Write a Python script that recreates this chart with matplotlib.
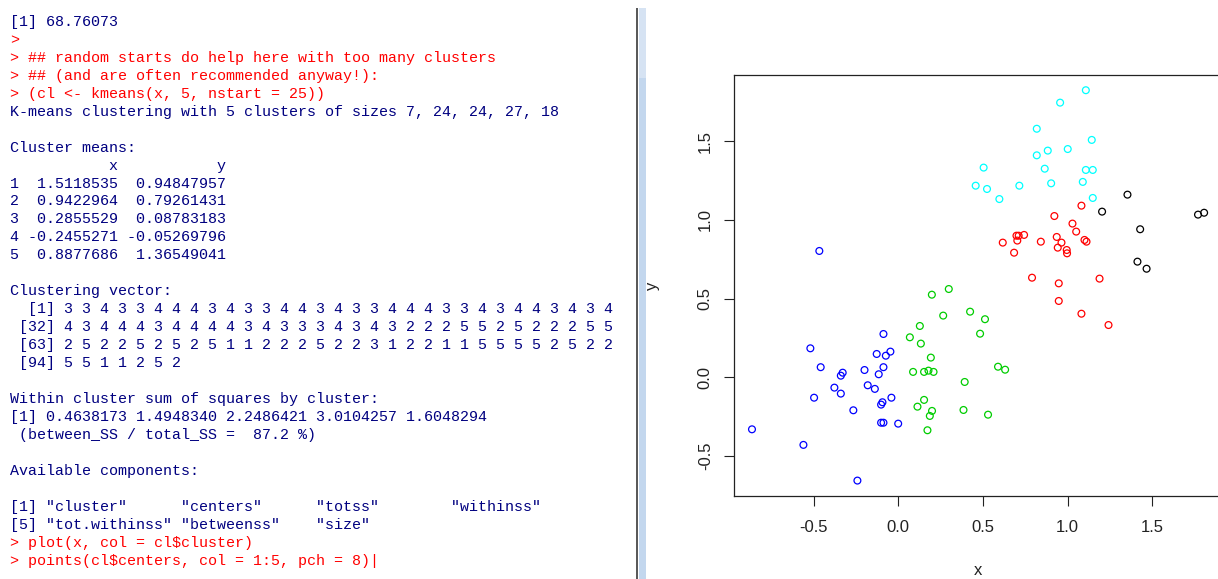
import numpy as np
import matplotlib
matplotlib.use("Agg")
import matplotlib.pyplot as plt
from matplotlib.patches import Rectangle
from matplotlib.ticker import FixedLocator, FormatStrFormatter

# points of each k-means cluster
x1 = [1.354, 1.771, 1.807, 1.429, 1.413, 1.467, 1.204]
y1 = [1.161, 1.034, 1.046, 0.941, 0.735, 0.690, 1.053]

x2 = [1.082, 0.922, 1.029, 1.051, 0.711, 0.743, 0.703, 0.617, 0.842, 0.936, 0.964, 0.942,
      0.995, 0.997, 1.100, 1.112, 0.684, 0.790, 0.948, 1.189, 0.948, 1.082, 1.242, 0.698]
y2 = [1.091, 1.025, 0.977, 0.926, 0.900, 0.905, 0.869, 0.856, 0.862, 0.892, 0.856, 0.824,
      0.809, 0.788, 0.873, 0.862, 0.792, 0.633, 0.597, 0.627, 0.485, 0.404, 0.332, 0.900]

x3 = [0.298, 0.198, 0.424, 0.265, 0.512, 0.127, 0.483, 0.068, 0.133, 0.192, 0.087, 0.152,
      0.178, 0.208, 0.589, 0.631, 0.392, 0.152, 0.113, 0.199, 0.186, 0.385, 0.530, 0.172]
y3 = [0.561, 0.525, 0.417, 0.392, 0.369, 0.326, 0.277, 0.254, 0.214, 0.125, 0.034, 0.034,
      0.042, 0.034, 0.067, 0.048, -0.030, -0.144, -0.187, -0.214, -0.246, -0.208, -0.238, -0.337]

x4 = [-0.467, -0.088, -0.520, -0.128, -0.047, -0.074, -0.459, -0.088, -0.200, -0.329,
      -0.340, -0.116, -0.378, -0.340, -0.181, -0.139, -0.498, -0.041, -0.094, -0.102,
      -0.266, -0.102, -0.088, -0.001, -0.865, -0.561, -0.242]
y4 = [0.803, 0.275, 0.184, 0.148, 0.163, 0.137, 0.064, 0.064, 0.046, 0.029,
      0.010, 0.019, -0.066, -0.104, -0.051, -0.074, -0.130, -0.130, -0.159, -0.174,
      -0.210, -0.289, -0.289, -0.295, -0.331, -0.430, -0.657]

x5 = [1.108, 0.956, 0.818, 1.143, 1.001, 0.883, 0.818, 0.504, 0.865, 1.108, 1.149,
      0.457, 0.524, 0.715, 0.903, 1.090, 0.597, 1.149]
y5 = [1.825, 1.746, 1.580, 1.509, 1.451, 1.441, 1.411, 1.333, 1.326, 1.318, 1.318,
      1.218, 1.197, 1.218, 1.233, 1.242, 1.133, 1.140]

cluster_x = [x1, x2, x3, x4, x5]
cluster_y = [y1, y2, y3, y4, y5]
cluster_cols = ["#000000", "#FF0000", "#00CD00", "#0000FF", "#00FFFF"]  # R palette 1:5

# console output shown on the left
sizes = [7, 24, 24, 27, 18]
centers_x = [1.5118535, 0.9422964, 0.2855529, -0.2455271, 0.8877686]
centers_y = [0.94847957, 0.79261431, 0.08783183, -0.05269796, 1.36549041]
cluster_vec = [3, 3, 4, 3, 3, 4, 4, 4, 3, 4, 3, 3, 4, 4, 3, 4, 3, 3, 4, 4, 4, 3, 3, 4, 3, 4, 4, 3, 4, 3, 4,
               4, 3, 4, 4, 4, 3, 4, 4, 4, 4, 3, 4, 3, 3, 3, 4, 3, 4, 3, 2, 2, 2, 5, 5, 2, 5, 2, 2, 2, 5, 5,
               2, 5, 2, 2, 5, 2, 5, 2, 5, 1, 1, 2, 2, 2, 5, 2, 2, 3, 1, 2, 2, 1, 1, 5, 5, 5, 5, 2, 5, 2, 2,
               5, 5, 1, 1, 2, 5, 2]
withinss = [0.4638173, 1.4948340, 2.2486421, 3.0104257, 1.6048294]
between_pct = 87.2
components = ["cluster", "centers", "totss", "withinss", "tot.withinss", "betweenss", "size"]

out_col = "#000080"
cmd_col = "#FF0000"

lines = [("[1] 68.76073", out_col),
         (">", cmd_col),
         ("> ## random starts do help here with too many clusters", cmd_col),
         ("> ## (and are often recommended anyway!):", cmd_col),
         ("> (cl <- kmeans(x, 5, nstart = 25))", cmd_col),
         ("K-means clustering with 5 clusters of sizes " + ", ".join(str(s) for s in sizes), out_col),
         ("", out_col),
         ("Cluster means:", out_col),
         (" " * 11 + "x" + " " * 11 + "y", out_col)]
for i in range(len(centers_x)):
    lines.append(("%d %10.7f %11.8f" % (i + 1, centers_x[i], centers_y[i]), out_col))
lines.append(("", out_col))
lines.append(("Clustering vector:", out_col))
for start in range(0, len(cluster_vec), 31):
    chunk = cluster_vec[start:start + 31]
    lines.append(("%5s " % ("[%d]" % (start + 1)) + " ".join(str(c) for c in chunk), out_col))
lines.append(("", out_col))
lines.append(("Within cluster sum of squares by cluster:", out_col))
lines.append(("[1] " + " ".join("%.7f" % w for w in withinss), out_col))
lines.append((" (between_SS / total_SS =  %.1f %%)" % between_pct, out_col))
lines.append(("", out_col))
lines.append(("Available components:", out_col))
lines.append(("", out_col))
lines.append(("[1] " + " ".join("%-14s" % ('"' + c + '"') for c in components[:4]), out_col))
lines.append(("[5] " + " ".join("%-14s" % ('"' + c + '"') for c in components[4:]), out_col))
lines.append(("> plot(x, col = cl$cluster)", cmd_col))
lines.append(("> points(cl$centers, col = 1:5, pch = 8)|", cmd_col))

plt.rcParams["axes.unicode_minus"] = False
plt.rcParams["font.family"] = ["Liberation Sans", "DejaVu Sans"]

W, H = 1218, 579
fig = plt.figure(figsize=(W / 100, H / 100), dpi=100)
fig.patch.set_facecolor("white")

# console text
for k, (txt, col) in enumerate(lines):
    fig.text(10 / W, 1 - (25.7 + 17.98 * k) / H, txt, color=col, ha="left", va="baseline",
             family=["Liberation Mono", "DejaVu Sans Mono"], fontsize=10.8)

# pane divider and scrollbar
fig.add_artist(Rectangle((636 / W, 0), 2 / W, 1 - 8 / H, transform=fig.transFigure,
                         color="#5a5a5a", lw=0))
fig.add_artist(Rectangle((638.5 / W, 0), 7 / W, 1 - 8 / H, transform=fig.transFigure,
                         color="#c3d7ee", lw=0))
fig.add_artist(Rectangle((638.5 / W, 1 - 78 / H), 7 / W, 70 / H, transform=fig.transFigure,
                         color="#d6e3f3", lw=0))

# scatter plot, R style
ax = fig.add_axes([733.9 / W, (H - 496.2) / H, 488.3 / W, 421.6 / H])
for xs, ys, c in zip(cluster_x, cluster_y, cluster_cols):
    ax.scatter(xs, ys, s=24, facecolors="none", edgecolors=c, linewidths=0.9)

all_x = np.concatenate([np.array(v) for v in cluster_x])
all_y = np.concatenate([np.array(v) for v in cluster_y])
xr = all_x.max() - all_x.min()
yr = all_y.max() - all_y.min()
ax.set_xlim(all_x.min() - 0.04 * xr, all_x.max() + 0.04 * xr)
ax.set_ylim(all_y.min() - 0.04 * yr, all_y.max() + 0.04 * yr)

ticks = [-0.5, 0.0, 0.5, 1.0, 1.5]
ax.xaxis.set_major_locator(FixedLocator(ticks))
ax.yaxis.set_major_locator(FixedLocator(ticks))
ax.xaxis.set_major_formatter(FormatStrFormatter("%.1f"))
ax.yaxis.set_major_formatter(FormatStrFormatter("%.1f"))
ax.tick_params(direction="out", length=7.2, width=0.8, color="#222222",
               labelsize=12, labelcolor="#222222")
ax.tick_params(axis="x", pad=10)
ax.tick_params(axis="y", pad=8, labelrotation=90)
for lab in ax.get_yticklabels():
    lab.set_va("center")
for sp in ax.spines.values():
    sp.set_color("#222222")
    sp.set_linewidth(0.9)

ax.set_xlabel("x", fontsize=12, color="#222222")
ax.set_ylabel("y", fontsize=12, color="#222222")
ax.xaxis.set_label_coords(0.5, -0.158)
ax.yaxis.set_label_coords(-0.151, 0.5)

fig.savefig("out.png", dpi=100)
